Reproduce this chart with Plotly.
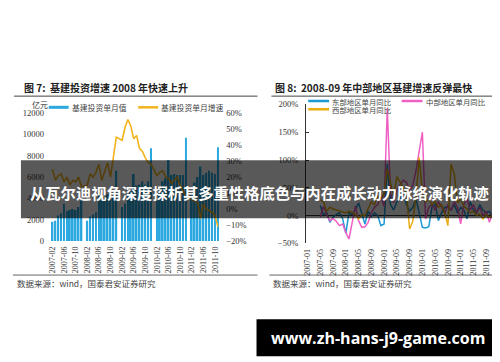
import plotly.graph_objects as go

# ---------------- Left chart data (图 7) ----------------
left_months = [
    "2007-02","2007-03","2007-04","2007-05","2007-06","2007-07","2007-08","2007-09","2007-10","2007-11","2007-12",
    "2008-01","2008-02","2008-03","2008-04","2008-05","2008-06","2008-07","2008-08","2008-09","2008-10","2008-11","2008-12",
    "2009-01","2009-02","2009-03","2009-04","2009-05","2009-06","2009-07","2009-08","2009-09","2009-10","2009-11","2009-12",
    "2010-01","2010-02","2010-03","2010-04","2010-05","2010-06","2010-07","2010-08","2010-09","2010-10","2010-11","2010-12",
    "2011-01","2011-02","2011-03","2011-04","2011-05","2011-06","2011-07","2011-08","2011-09","2011-10","2011-11",
]
infra_monthly = [
    1800, 1900, 2400, 2600, 3500, 2800, 2900, 3000, 2900, 3200, 3800,
    None, 1900, 2300, 2500, 2700, 4300, 3800, 3900, 4400, 3900, 4200, 6600,
    None, 3200, 3500, 4200, 4700, 6300, 5200, 5300, 5600, 5300, 5600, 8700,
    None, 3800, 4800, 5600, 5900, 7600, 6200, 6300, 6200, 6200, 6200, 9700,
    None, 4300, 5500, 6000, 7000, 6200, 6400, 6600, 6400, 6300, 8800,
]
infra_growth = [
    25, 18, 21, 22, 17, 20, 15, 18, 17, 20, 14,
    None, 15, 22, 20, 23, 28, 18, 24, 29, 20, 33, 45,
    None, 43, 51, 56, 52, 44, 46, 38, 36, 32, 29, 28,
    None, 21, 23, 24, 20, 19, 16, 18, 20, 15, 11, 8,
    None, 6, 5, 4, -6, 3, 0, -1, -2, -4, -11,
]
left_ticks = ["2007-02","2007-06","2007-10","2008-02","2008-06","2008-10","2009-02","2009-06",
              "2009-10","2010-02","2010-06","2010-10","2011-02","2011-06","2011-10"]

# ---------------- Right chart data (图 8) ----------------
right_months = [
    "2007-01","2007-02","2007-03","2007-04","2007-05","2007-06","2007-07","2007-08","2007-09","2007-10","2007-11","2007-12",
    "2008-01","2008-02","2008-03","2008-04","2008-05","2008-06","2008-07","2008-08","2008-09","2008-10","2008-11","2008-12",
    "2009-01","2009-02","2009-03","2009-04","2009-05","2009-06","2009-07","2009-08","2009-09","2009-10","2009-11","2009-12",
    "2010-01","2010-02","2010-03","2010-04","2010-05","2010-06","2010-07","2010-08","2010-09","2010-10","2010-11","2010-12",
    "2011-01","2011-02","2011-03","2011-04","2011-05","2011-06","2011-07","2011-08","2011-09","2011-10","2011-11","2011-12",
]
east_yoy = [
    None, None, None, None,
    18, 2, 5, -12, -3, 2, 5, -5, -32, 5,
    2, 11, 23, 2, -15, 8, -2, 5, 0, -18,
    -15, 93, 20, 10, 25, 30, 40, 20, 8, 15,
    30, 5, -21, -22, -20, 15, 20, -9, 5, 15,
    15, 10, 20, 5, 15, 10, -6, 25, 10, 5,
    20, 10, 5, 8, -3, 0,
]
central_yoy = [
    None, None, None, None,
    -3, 17, 2, -9, -5, -10, -18, -15, -30, -42,
    -12, 17, -9, -21, -20, -12, 5, 15, 20, 35,
    17, 193, 40, 23, 46, 55, 64, 60, 45, 55,
    81, 116, 150, -6, 15, 20, 10, 25, 15, 5,
    20, 10, 25, 15, -15, 20, 30, 10, 20, 5,
    15, 0, 8, -12, 5, -9,
]
west_yoy = [
    None, None, None, None,
    29, 25, 8, 15, 12, 10, 8, 6, 5, 8,
    5, 3, -6, 2, 0, 14, 25, 20, 35, 30,
    40, 84, 60, 35, 70, 60, 50, 40, -24, -10,
    35, 105, 40, 25, 30, 20, 25, 15, 20, 5,
    -18, 93, 75, 23, 30, 17, 12, 5, 8, 0,
    3, -6, 2, -3, 0, -2,
]
right_ticks = ["2007-01","2007-05","2007-09","2008-01","2008-05","2008-09","2009-01","2009-05",
               "2009-09","2010-01","2010-05","2010-09","2011-01","2011-05","2011-09"]

W, H = 500, 362
def fx(px):
    return px / W
def fy(py):
    return 1 - py / H

BLUE_BAR = "#2BA8E0"
GOLD = "#F2B31C"
EAST_C = "#1C98D4"
CENT_C = "#F060C4"
WEST_C = "#E9AE12"
NUM_FONT = dict(family="Liberation Serif", size=8.5, color="#333333")
CJK = "Noto Sans CJK SC"

fig = go.Figure()
fig.add_trace(go.Bar(x=left_months, y=infra_monthly, marker=dict(color=BLUE_BAR, line=dict(width=0)),
                     width=0.62, xaxis="x", yaxis="y", showlegend=False))
fig.add_trace(go.Scatter(x=left_months, y=infra_growth, mode="lines", connectgaps=True,
                         line=dict(color=GOLD, width=1.6), xaxis="x", yaxis="y2", showlegend=False))
fig.add_trace(go.Scatter(x=right_months, y=east_yoy, mode="lines", line=dict(color=EAST_C, width=1.5),
                         xaxis="x2", yaxis="y3", showlegend=False))
fig.add_trace(go.Scatter(x=right_months, y=central_yoy, mode="lines", line=dict(color=CENT_C, width=1.5),
                         xaxis="x2", yaxis="y3", showlegend=False))
fig.add_trace(go.Scatter(x=right_months, y=west_yoy, mode="lines", line=dict(color=WEST_C, width=1.5),
                         xaxis="x2", yaxis="y3", showlegend=False))

fig.update_layout(
    width=W, height=H, margin=dict(l=0, r=0, t=0, b=0),
    paper_bgcolor="white", plot_bgcolor="rgba(0,0,0,0)",
    bargap=0.3,
    xaxis=dict(domain=[fx(40.2), fx(209.6)], type="category", categoryorder="array",
               categoryarray=left_months, range=[-0.5, len(left_months) - 0.5],
               tickmode="array", tickvals=left_ticks, ticktext=left_ticks, tickangle=-90,
               tickfont=dict(family="Liberation Serif", size=8, color="#333333"),
               showline=False, showgrid=False, zeroline=False, ticks="", anchor="y",
               ticklabelstandoff=3),
    yaxis=dict(domain=[fy(234.5), fy(103)], range=[0, 12000], dtick=2000, tickformat="d",
               tickfont=NUM_FONT, showgrid=False, zeroline=False, showline=False, ticks="",
               anchor="x", ticklabelstandoff=6),
    yaxis2=dict(overlaying="y", side="right", range=[-20, 60], dtick=10, ticksuffix="%",
                tickfont=NUM_FONT, showgrid=False, zeroline=False, showline=False, ticks="",
                anchor="x", ticklabelstandoff=6),
    xaxis2=dict(domain=[fx(296.7), fx(489.3)], type="category", categoryorder="array",
                categoryarray=right_months, range=[-0.5, len(right_months) - 0.5],
                tickmode="array", tickvals=right_ticks, ticktext=right_ticks, tickangle=-90,
                tickfont=dict(family="Liberation Serif", size=8, color="#333333"),
                showline=False, showgrid=False, zeroline=False, ticks="", anchor="y3",
                ticklabelstandoff=3),
    yaxis3=dict(domain=[fy(237), fy(94)], range=[-50, 200], dtick=50, ticksuffix="%",
                tickfont=NUM_FONT, showgrid=False, showline=True, linecolor="#333333", linewidth=1,
                ticks="inside", ticklen=3, tickcolor="#333333",
                zeroline=True, zerolinecolor="#333333", zerolinewidth=1, anchor="x2",
                ticklabelstandoff=5),
)

shapes = []
annotations = []

def hline(x0, x1, y, color="#444444", width=1, layer="below"):
    shapes.append(dict(type="line", xref="paper", yref="paper", x0=fx(x0), x1=fx(x1),
                       y0=fy(y), y1=fy(y), line=dict(color=color, width=width), layer=layer))

def text(x, y, s, size, color="#333333", family=CJK, xanchor="left", weight="normal"):
    annotations.append(dict(xref="paper", yref="paper", x=fx(x), y=fy(y), text=s, showarrow=False,
                            xanchor=xanchor, yanchor="middle", borderpad=0,
                            font=dict(family=family, size=size, color=color, weight=weight)))

# Titles and rules
text(12, 77, "图 7:  基建投资增速 2008 年快速上升", 10, color="#222222", weight="bold")
text(265, 77, "图 8:  2008-09 年中部地区基建增速反弹最快", 10, color="#222222", weight="bold")
hline(3, 248, 85.5)
hline(262, 497, 85.5)
hline(2, 248, 269.5, color="#666666")
hline(260, 500, 269.5, color="#666666")
text(5, 278, "数据来源：wind，国泰君安证券研究", 8.5, color="#444444")
text(263, 278, "数据来源：wind，国泰君安证券研究", 8.5, color="#444444")

# Left legend
text(20, 94, "亿元", 8, color="#333333")
hline(38, 58, 97, color=BLUE_BAR, width=3)
text(60, 97, "基建投资单月值", 7.8, color="#444444")
hline(128, 148, 97, color=GOLD, width=2.5)
text(150, 97, "基建投资单月增速", 7.8, color="#444444")

# Right legend
hline(299, 320, 90.5, color=EAST_C, width=2.5)
text(322, 90.5, "东部地区单月同比", 7.4, color="#444444")
hline(393, 414, 90.5, color=CENT_C, width=2.5)
text(416, 90.5, "中部地区单月同比", 7.4, color="#444444")
hline(299, 320, 99, color=WEST_C, width=2.5)
text(322, 99, "西部地区单月同比", 7.4, color="#444444")

# Overlay banner
shapes.append(dict(type="rect", xref="paper", yref="paper", x0=fx(10), x1=fx(491), y0=fy(211), y1=fy(151.5),
                   fillcolor="rgba(0,0,0,0.65)", line=dict(width=0), layer="above"))
text(250.5, 184, "从瓦尔迪视角深度探析其多重性格底色与内在成长动力脉络演化轨迹", 15.3, color="white",
     xanchor="center", weight="bold")

# URL box
shapes.append(dict(type="rect", xref="paper", yref="paper", x0=fx(247), x1=fx(491), y0=fy(353), y1=fy(315),
                   fillcolor="black", line=dict(width=0), layer="above"))
text(369, 334, "www.zh-hans-j9-game.com", 16, color="white", family="Open Sans", xanchor="center",
     weight="bold")

fig.update_layout(shapes=shapes, annotations=annotations)
fig.write_html("out.html")
